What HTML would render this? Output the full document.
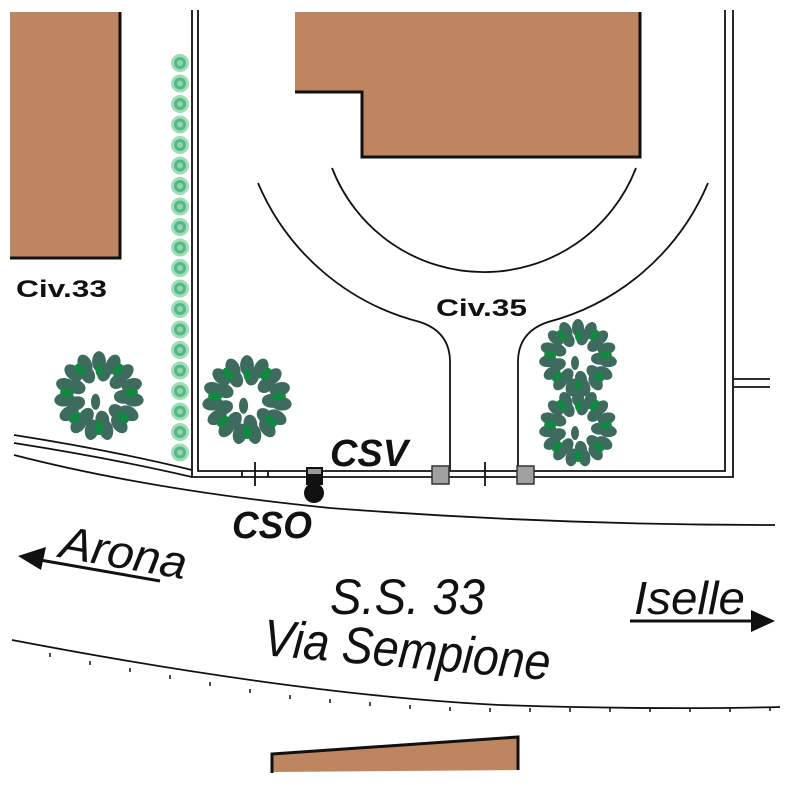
<!DOCTYPE html>
<html><head><meta charset="utf-8"><style>html,body{margin:0;padding:0;background:#fff}svg{display:block}</style></head>
<body>
<svg width="788" height="788" viewBox="0 0 788 788" xmlns="http://www.w3.org/2000/svg">
<defs>
<g id="bush">
 <g fill="#3d6b5e">
  <ellipse cx="0" cy="-30" rx="6" ry="9"/><ellipse cx="0" cy="-30" rx="6" ry="9" transform="rotate(24)"/>
  <ellipse cx="0" cy="-30" rx="6" ry="9" transform="rotate(48)"/><ellipse cx="0" cy="-30" rx="6" ry="9" transform="rotate(72)"/>
  <ellipse cx="0" cy="-30" rx="6" ry="9" transform="rotate(96)"/><ellipse cx="0" cy="-30" rx="6" ry="9" transform="rotate(120)"/>
  <ellipse cx="0" cy="-30" rx="6" ry="9" transform="rotate(144)"/><ellipse cx="0" cy="-30" rx="6" ry="9" transform="rotate(168)"/>
  <ellipse cx="0" cy="-30" rx="6" ry="9" transform="rotate(192)"/><ellipse cx="0" cy="-30" rx="6" ry="9" transform="rotate(216)"/>
  <ellipse cx="0" cy="-30" rx="6" ry="9" transform="rotate(240)"/><ellipse cx="0" cy="-30" rx="6" ry="9" transform="rotate(264)"/>
  <ellipse cx="0" cy="-30" rx="6" ry="9" transform="rotate(288)"/><ellipse cx="0" cy="-30" rx="6" ry="9" transform="rotate(312)"/>
  <ellipse cx="0" cy="-30" rx="6" ry="9" transform="rotate(336)"/>
  <ellipse cx="0" cy="-21" rx="6" ry="8" transform="rotate(12)"/><ellipse cx="0" cy="-21" rx="6" ry="8" transform="rotate(52)"/>
  <ellipse cx="0" cy="-21" rx="6" ry="8" transform="rotate(92)"/><ellipse cx="0" cy="-21" rx="6" ry="8" transform="rotate(132)"/>
  <ellipse cx="0" cy="-21" rx="6" ry="8" transform="rotate(172)"/><ellipse cx="0" cy="-21" rx="6" ry="8" transform="rotate(212)"/>
  <ellipse cx="0" cy="-21" rx="6" ry="8" transform="rotate(252)"/><ellipse cx="0" cy="-21" rx="6" ry="8" transform="rotate(292)"/>
  <ellipse cx="0" cy="-21" rx="6" ry="8" transform="rotate(332)"/>
  <ellipse cx="-3" cy="5" rx="4" ry="7"/>
 </g>
 <g fill="#0f8a3e">
  <ellipse cx="0" cy="-28" rx="3.5" ry="6" transform="rotate(36)"/><ellipse cx="0" cy="-28" rx="3.5" ry="6" transform="rotate(84)"/>
  <ellipse cx="0" cy="-28" rx="3.5" ry="6" transform="rotate(132)"/><ellipse cx="0" cy="-28" rx="3.5" ry="6" transform="rotate(180)"/>
  <ellipse cx="0" cy="-28" rx="3.5" ry="6" transform="rotate(228)"/><ellipse cx="0" cy="-28" rx="3.5" ry="6" transform="rotate(276)"/>
  <ellipse cx="0" cy="-28" rx="3.5" ry="6" transform="rotate(324)"/><ellipse cx="0" cy="-22" rx="3" ry="5" transform="rotate(0)"/>
 </g>
</g>
<pattern id="hedge" x="0" y="53" width="24" height="20.5" patternUnits="userSpaceOnUse">
 <circle cx="12" cy="10" r="9" fill="#9fdcb8"/><circle cx="12" cy="10" r="6" fill="#55b884"/><circle cx="12" cy="10" r="3" fill="#8fd4ae"/>
</pattern>
</defs>

<rect x="10" y="12" width="110" height="246" fill="#bd8560"/>
<path d="M120,12 V258 H10" fill="none" stroke="#111" stroke-width="3"/>
<path d="M295,12 H640 V157 H362 V92 H295 Z" fill="#bd8560"/>
<path d="M640,12 V157 H362 V92 H295" fill="none" stroke="#111" stroke-width="3"/>
<path d="M272,754 L518,737 L518,770 L272,772 Z" fill="#bd8560"/>
<path d="M272,773 V754 L518,737 V770" fill="none" stroke="#111" stroke-width="3"/>

<rect x="166" y="53" width="24" height="410" fill="url(#hedge)"/>

<g fill="none" stroke="#111" stroke-width="1.8">
 <path d="M192,10 V477 H733 V10"/>
 <path d="M198,10 V471 H725 V10"/>
 <path d="M733,379 H770 M733,387 H770"/>
 <path d="M258,183 A240 240 0 0 0 420,322 Q450,332 450,362 V470"/>
 <path d="M708,183 A240 240 0 0 1 548,322 Q518,332 518,362 V470"/>
 <path d="M332,168 A163 163 0 0 0 636,168"/>
 <path d="M14,435 Q110,450 192,470"/>
 <path d="M14,443 Q110,458 192,477"/>
 <path d="M14,455 Q150,490 330,508 Q550,525 775,525"/>
 <path d="M12,640 Q300,695 500,705 Q650,710 780,707"/>
 <path d="M255,462 V486 M242,471 V477 M268,471 V477 M485,462 V486"/>
</g>
<g stroke="#111" stroke-width="1.5">
 <path d="M50,653 v4 M90,661 v4 M130,668 v4 M170,675 v4 M210,682 v4 M250,689 v4 M290,695 v4 M330,699 v4 M370,702 v4 M410,705 v4 M450,707 v4 M490,708 v4 M530,708 v4 M570,708 v4 M610,708 v4 M650,708 v4 M690,708 v4 M730,708 v4 M770,707 v4"/>
</g>

<use href="#bush" transform="translate(99,396) scale(1.15)"/>
<use href="#bush" transform="translate(247,400) scale(1.15)"/>
<use href="#bush" transform="translate(578,358)"/>
<use href="#bush" transform="translate(578,428)"/>

<rect x="306" y="467" width="17" height="18" fill="#111"/>
<rect x="308" y="469" width="13" height="5" fill="#999"/>
<circle cx="314" cy="493" r="10" fill="#111"/>
<rect x="432" y="466" width="17" height="18" fill="#a0a0a0" stroke="#333" stroke-width="1.5"/>
<rect x="517" y="466" width="17" height="18" fill="#a0a0a0" stroke="#333" stroke-width="1.5"/>

<g font-family="Liberation Sans, sans-serif" fill="#111">
 <text x="16" y="297" font-size="24" font-weight="bold" textLength="91" lengthAdjust="spacingAndGlyphs">Civ.33</text>
 <text x="436" y="316" font-size="24" font-weight="bold" textLength="91" lengthAdjust="spacingAndGlyphs">Civ.35</text>
 <text x="330" y="466" font-size="38" font-weight="bold" font-style="italic" textLength="78" lengthAdjust="spacingAndGlyphs">CSV</text>
 <text x="232" y="538" font-size="38" font-weight="bold" font-style="italic" textLength="80" lengthAdjust="spacingAndGlyphs">CSO</text>
 <text x="58" y="557" font-size="46" font-style="italic" transform="rotate(10 58 557)" textLength="128" lengthAdjust="spacingAndGlyphs">Arona</text>
 <text x="330" y="614" font-size="50" font-style="italic" textLength="155" lengthAdjust="spacingAndGlyphs">S.S. 33</text>
 <text x="262" y="655" font-size="52" font-style="italic" transform="rotate(5 262 655)" textLength="288" lengthAdjust="spacingAndGlyphs">Via Sempione</text>
 <text x="634" y="614" font-size="46" font-style="italic" textLength="111" lengthAdjust="spacingAndGlyphs">Iselle</text>
</g>
<path d="M160,581 L40,560" stroke="#111" stroke-width="3"/>
<path d="M18,556 L46,547 L41,570 Z" fill="#111"/>
<path d="M630,621 H755" stroke="#111" stroke-width="3"/>
<path d="M775,621 L751,610 L751,632 Z" fill="#111"/>
</svg>
</body></html>
